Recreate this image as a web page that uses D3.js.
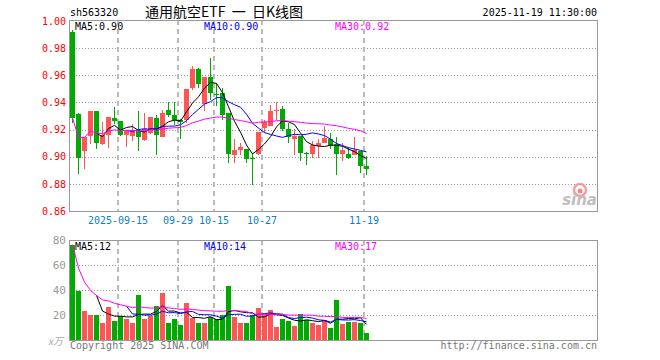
<!DOCTYPE html>
<html>
<head>
<meta charset="utf-8">
<script src="https://cdn.jsdelivr.net/npm/d3@7/dist/d3.min.js"></script>
<style>
  body{margin:0;background:#fff}
  svg text{font-family:"DejaVu Sans Mono",monospace;font-size:10px}
</style>
</head>
<body>
<div id="chart"></div>
<script>
// trading days shown
var dates = ['2025-09-03','2025-09-04','2025-09-05','2025-09-08','2025-09-09','2025-09-10','2025-09-11','2025-09-12',
  '2025-09-15','2025-09-16','2025-09-17','2025-09-18','2025-09-19','2025-09-22','2025-09-23','2025-09-24','2025-09-25',
  '2025-09-26','2025-09-29','2025-09-30','2025-10-09','2025-10-10','2025-10-13','2025-10-14','2025-10-15','2025-10-16',
  '2025-10-17','2025-10-20','2025-10-21','2025-10-22','2025-10-23','2025-10-24','2025-10-27','2025-10-28','2025-10-29',
  '2025-10-30','2025-10-31','2025-11-03','2025-11-04','2025-11-05','2025-11-06','2025-11-07','2025-11-10','2025-11-11',
  '2025-11-12','2025-11-13','2025-11-14','2025-11-17','2025-11-18','2025-11-19'];

var open  = [0.992,0.9315,0.9042,0.9155,0.9337,0.9096,0.916,0.9285,0.9263,0.9157,0.9153,0.919,0.9123,0.9175,0.9285,0.9145,
  0.9344,0.9307,0.927,0.927,0.9506,0.9647,0.9389,0.9588,0.9465,0.947,0.932,0.9015,0.9052,0.906,0.899,0.9022,0.921,0.9226,
  0.9337,0.9352,0.9204,0.913,0.9153,0.9028,0.902,0.908,0.910,0.913,0.9094,0.902,0.902,0.9013,0.9042,0.8932];
var high  = [0.9937,0.9322,0.9145,0.9337,0.9337,0.9256,0.9293,0.9367,0.9263,0.920,0.9241,0.9337,0.9322,0.9293,0.9307,0.9344,
  0.940,0.940,0.928,0.9499,0.9669,0.9654,0.9588,0.9728,0.9536,0.9506,0.932,0.913,0.910,0.906,0.903,0.9182,0.927,0.9381,
  0.9403,0.9374,0.925,0.9204,0.9153,0.9035,0.9116,0.913,0.9226,0.9175,0.9145,0.910,0.9072,0.9145,0.9042,0.9005];
var low   = [0.925,0.8875,0.891,0.9096,0.9059,0.9089,0.9067,0.9241,0.915,0.9072,0.9116,0.9045,0.9116,0.9167,0.9013,0.9145,
  0.9293,0.9234,0.913,0.925,0.9492,0.9506,0.9337,0.9418,0.9374,0.927,0.8956,0.8956,0.9015,0.8956,0.8794,0.9015,0.9173,0.9226,
  0.927,0.919,0.910,0.9013,0.8965,0.894,0.899,0.899,0.910,0.906,0.8866,0.8968,0.8983,0.9013,0.888,0.8866];
var close = [0.9288,0.8993,0.9145,0.9337,0.9103,0.916,0.9293,0.9263,0.916,0.920,0.9197,0.9145,0.9204,0.9293,0.916,0.9322,
  0.9307,0.927,0.9256,0.9499,0.9647,0.9536,0.9588,0.947,0.946,0.9307,0.9018,0.905,0.907,0.8985,0.898,0.9182,0.9256,0.9337,
  0.9344,0.9204,0.9145,0.9153,0.9027,0.9025,0.9086,0.910,0.9136,0.908,0.902,0.905,0.899,0.905,0.8932,0.891];
// volume, in 10k
var volume = [76.3,39,23.5,19.8,19.8,13.9,26.7,15.5,19.2,17.1,13.9,36.3,17.1,19.2,27.5,37.9,13.9,17.1,11.8,29.9,17.6,13.4,
  13.9,18.7,17.1,20.3,43.5,18.7,13.4,13.4,19.8,25.9,20.3,24.3,10.7,17.1,15.5,11.5,21.1,15.8,13.4,11.8,16,9.9,32.3,13.1,
  14.7,14.7,13.9,5.9];

var priceTicks = [0.86,0.88,0.90,0.92,0.94,0.96,0.98,1.00];
var volTicks = [20,40,60,80];
var tickDates = ['2025-09-15','2025-09-29','2025-10-15','2025-10-27','2025-11-19'];
var tickLabels = ['2025-09-15','09-29','10-15','10-27','11-19'];
var priceMaText = ['MA5:0.90','MA10:0.90','MA30:0.92'];
var volMaText = ['MA5:12','MA10:14','MA30:17'];

(function(){
  var width = 660, height = 360;
  var left = 70, right = 597;
  var red = '#ff5555', green = '#00aa00';

  var svg = d3.select('#chart').append('svg')
    .attr('width', width)
    .attr('height', height)

  var x = d3.scaleBand().domain(dates).range([70, 369]).paddingInner(1/6).paddingOuter(0).align(0)
  var y = d3.scaleLinear().domain([0.86, 1.00]).range([211, 21])
  var yv = d3.scaleLinear().domain([0, 80]).range([340, 240])

  var rows = dates.map(function(d, i){
    return {date: d, o: open[i], h: high[i], l: low[i], c: close[i], v: volume[i], up: close[i] >= open[i]}
  })

  function ma(arr, n, start){
    return arr.map(function(v, i){
      if(i < start) return null
      return d3.mean(arr.slice(Math.max(0, i - n + 1), i + 1))
    })
  }

  // headers
  svg.append('text').attr('x', 70).attr('y', 16).text('sh563320')
  svg.append('text').attr('x', 224).attr('y', 17).attr('text-anchor', 'middle')
    .style('font-family', '"Noto Sans CJK SC", sans-serif').style('font-size', '14px')
    .style('white-space', 'pre')
    .text('通用航空ETF  一  日K线图')
  svg.append('text').attr('x', 597).attr('y', 16).attr('text-anchor', 'end').text('2025-11-19 11:30:00')

  // grids
  function hgrid(scale, ticks){
    svg.append('g').selectAll('line').data(ticks).enter().append('line')
      .attr('x1', left).attr('x2', right + 1)
      .attr('y1', function(d){ return Math.round(scale(d)) + 0.5 })
      .attr('y2', function(d){ return Math.round(scale(d)) + 0.5 })
      .attr('stroke', '#999').attr('stroke-dasharray', '1,2')
  }
  hgrid(y, priceTicks.slice(1, -1))
  hgrid(yv, volTicks.slice(0, -1))

  var vlines = svg.append('g')
  tickDates.forEach(function(d){
    [[20, 211], [240, 340]].forEach(function(r){
      vlines.append('line')
        .attr('x1', x(d)).attr('x2', x(d))
        .attr('y1', r[0]).attr('y2', r[1])
        .attr('stroke', '#bbb').attr('stroke-width', 2).attr('stroke-dasharray', '5,4')
    })
  })

  // borders
  svg.append('rect').attr('x', 69.5).attr('y', 20.5).attr('width', 528).attr('height', 191)
    .attr('fill', 'none').attr('stroke', '#999')
  svg.append('rect').attr('x', 69.5).attr('y', 240.5).attr('width', 528).attr('height', 100)
    .attr('fill', 'none').attr('stroke', '#999')

  // sina logo
  var logo = svg.append('g').attr('opacity', 0.8)
  logo.append('circle').attr('cx', 580).attr('cy', 190).attr('r', 6)
    .attr('fill', 'none').attr('stroke', '#f08a8a').attr('stroke-width', 2.5)
  logo.append('circle').attr('cx', 580).attr('cy', 191).attr('r', 2.5).attr('fill', '#f06a6a')
  logo.append('text').attr('x', 597).attr('y', 205).attr('text-anchor', 'end')
    .style('font-family', '"DejaVu Sans", sans-serif').style('font-size', '15px')
    .style('font-style', 'italic').style('font-weight', 'bold').attr('fill', '#b0b0b0')
    .text('sina')

  // axes
  var yAxis = svg.append('g').attr('transform', 'translate(70,0)')
    .call(d3.axisLeft(y).tickValues(priceTicks).tickSize(0).tickPadding(4).tickFormat(d3.format('.2f')))
  yAxis.select('.domain').remove()
  yAxis.selectAll('text').attr('fill', '#ff0000').style('font-family', '"DejaVu Sans Mono", monospace').style('font-size', '10px')

  var vAxis = svg.append('g').attr('transform', 'translate(70,0)')
    .call(d3.axisLeft(yv).tickValues(volTicks).tickSize(0).tickPadding(4))
  vAxis.select('.domain').remove()
  vAxis.selectAll('text').attr('fill', '#999').style('font-family', '"DejaVu Sans Mono", monospace').style('font-size', '11px')
  svg.append('text').attr('x', 63).attr('y', 345).attr('text-anchor', 'end')
    .attr('fill', '#aaa').style('font-style', 'italic').style('font-family', '"Noto Sans CJK SC", sans-serif')
    .text('x万')

  var xAxis = svg.append('g').attr('transform', 'translate(0,211)')
    .call(d3.axisBottom(x).tickValues(tickDates).tickSize(0).tickPadding(6)
      .tickFormat(function(d, i){ return tickLabels[i] }))
  xAxis.select('.domain').remove()
  xAxis.selectAll('.tick').attr('transform', function(d){ return 'translate(' + x(d) + ',0)' })
  xAxis.selectAll('text').attr('fill', '#0a7fcc').style('font-family', '"DejaVu Sans Mono", monospace').style('font-size', '10px')

  // candles
  var candles = svg.append('g').attr('shape-rendering', 'crispEdges')
  candles.selectAll('.wick').data(rows).enter().append('line')
    .attr('class', 'wick')
    .attr('x1', function(d){ return x(d.date) + 2.5 })
    .attr('x2', function(d){ return x(d.date) + 2.5 })
    .attr('y1', function(d){ return y(d.h) })
    .attr('y2', function(d){ return y(d.l) })
    .attr('stroke', function(d){ return d.up ? red : green })
  candles.selectAll('.body').data(rows).enter().append('rect')
    .attr('class', 'body')
    .attr('x', function(d){ return x(d.date) })
    .attr('width', x.bandwidth())
    .attr('y', function(d){ return y(Math.max(d.o, d.c)) })
    .attr('height', function(d){ return Math.max(1, Math.abs(y(d.o) - y(d.c))) })
    .attr('fill', function(d){ return d.up ? red : green })

  // volume bars
  svg.append('g').attr('shape-rendering', 'crispEdges')
    .selectAll('rect').data(rows).enter().append('rect')
    .attr('x', function(d){ return x(d.date) })
    .attr('width', x.bandwidth())
    .attr('y', function(d){ return yv(d.v) })
    .attr('height', function(d){ return yv(0) - yv(d.v) })
    .attr('fill', function(d){ return d.up ? red : green })

  // moving averages
  var maDefs = [[5, 4, '#000'], [10, 9, '#0000ff'], [30, 0, '#ff00ff']]
  function drawMa(arr, scale){
    maDefs.forEach(function(m){
      var vals = ma(arr, m[0], m[1])
      var line = d3.line()
        .defined(function(d){ return d != null })
        .x(function(d, i){ return x(dates[i]) + 2.5 })
        .y(function(d){ return scale(d) })
      svg.append('path').datum(vals).attr('d', line)
        .attr('fill', 'none').attr('stroke', m[2]).attr('stroke-width', 1)
    })
  }
  drawMa(close, y)
  drawMa(volume, yv)

  // MA labels
  var labelX = [75, 204, 335], labelCol = ['#000', '#0000ff', '#ff00ff']
  priceMaText.forEach(function(t, i){
    svg.append('text').attr('x', labelX[i]).attr('y', 30).attr('fill', labelCol[i]).text(t)
  })
  volMaText.forEach(function(t, i){
    svg.append('text').attr('x', labelX[i]).attr('y', 250).attr('fill', labelCol[i]).text(t)
  })

  // footer
  svg.append('text').attr('x', 70).attr('y', 349).attr('fill', '#777').text('Copyright 2025 SINA.COM')
  svg.append('text').attr('x', 597).attr('y', 349).attr('text-anchor', 'end').attr('fill', '#777')
    .text('http://finance.sina.com.cn')
})()
</script>
</body>
</html>
